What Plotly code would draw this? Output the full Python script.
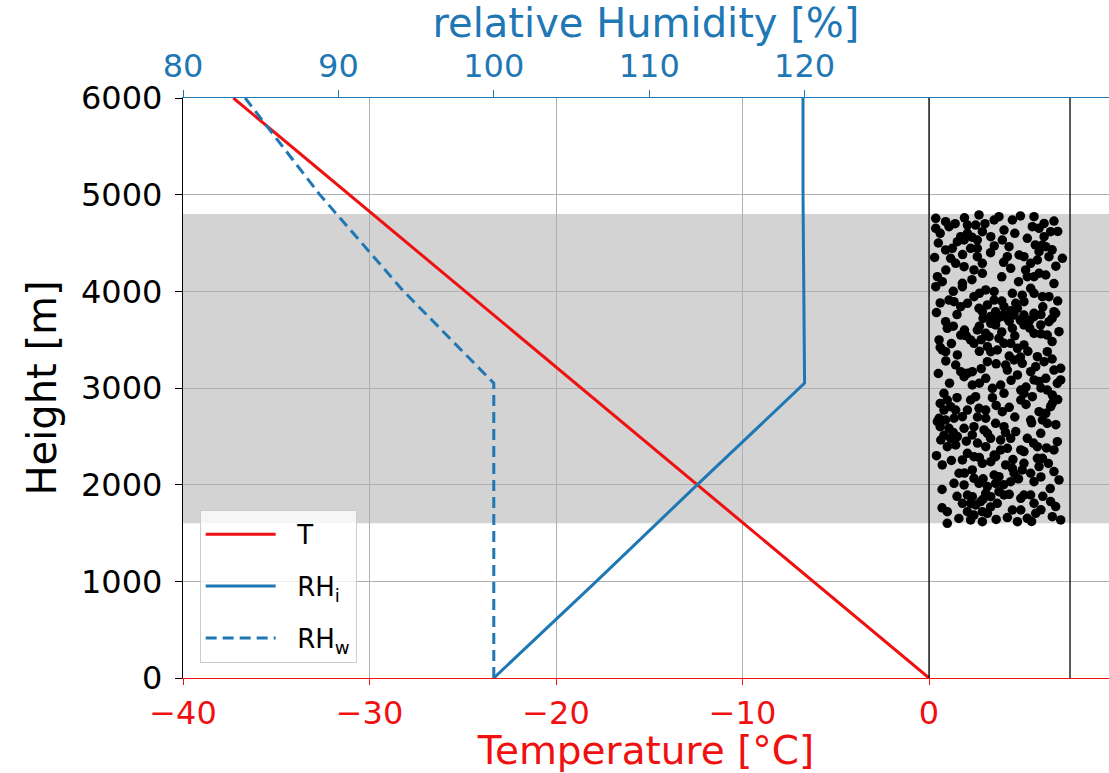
import plotly.graph_objects as go

# Temperature profile
t_height = [0, 6000]
t_values = [0.0, -37.3]

# Relative humidity over ice
rhi_height = [0, 1000, 2000, 3050, 4000, 5000, 6000]
rhi_values = [100.0, 106.6, 113.1, 120.0, 119.95, 119.9, 119.9]

# Relative humidity over water
rhw_height = [0, 3050, 4000, 5000, 6000]
rhw_values = [100.0, 100.0, 94.2, 88.8, 84.0]

# Cloud layer
cloud_base = 1600
cloud_top = 4800

# Particle panel edges (in temperature units)
panel_left = 0.0
panel_right = 7.56

# Particle positions: horizontal position (°C units) and height (m)
particle_x = [
    0.36, 0.36, 0.89, 1.07, 2.68, 2.06, 2.50, 3.49, 3.75, 4.47, 4.02, 5.63, 6.17, 6.70, 5.54, 5.90, 6.52,
    1.70, 2.06, 2.86, 3.31, 1.52, 1.88, 2.59, 3.93, 4.29, 5.27, 6.17, 6.08, 6.26, 0.89, 1.25, 2.23, 2.59,
    1.16, 1.43, 2.59, 2.86, 4.20, 4.83, 5.09, 5.45, 5.81, 5.90, 6.43, 7.15, 1.88, 2.41, 2.86, 4.38, 5.18,
    5.27, 5.63, 5.90, 6.26, 0.45, 0.71, 0.36, 1.79, 1.79, 3.04, 3.49, 4.47, 5.45, 5.63, 6.08, 6.43, 1.07,
    1.34, 2.41, 2.06, 1.70, 2.68, 3.13, 3.49, 4.02, 4.65, 5.09, 4.74, 5.63, 6.70, 2.86, 3.57,
    0.89, 0.98, 0.54, 1.70, 2.59, 3.04, 3.22, 2.23, 2.41, 3.31, 3.57, 3.84, 4.20, 4.56, 4.47, 5.09, 5.09,
    5.63, 5.99, 6.43, 6.79, 6.97, 6.34, 5.63, 0.71, 0.89, 1.52, 3.13, 3.31, 3.66, 3.75, 4.02, 4.38, 4.74,
    5.09, 3.13, 4.11, 4.56, 5.00, 5.81, 6.34, 6.17, 5.72, 1.43, 1.70, 2.06, 2.32, 1.88, 3.04, 2.32, 4.20,
    4.74, 5.45, 5.63, 5.90, 6.26, 6.70, 7.06, 6.88, 7.06, 3.40, 3.84, 4.02, 4.92, 5.09, 5.54, 6.34, 6.61,
    6.70, 0.80, 0.98, 1.16, 0.80, 1.43, 2.23, 2.50, 2.06, 2.68, 3.04, 3.93, 4.92, 5.90, 6.26, 6.52, 6.61,
    0.54, 1.79,
    0.45, 0.89, 1.34, 3.04, 3.57, 4.02, 5.45, 6.08, 6.34, 1.07, 1.88, 2.41, 2.95, 3.13, 2.32, 0.63, 1.16,
    1.52, 0.98, 1.43, 3.84, 4.38, 4.65, 5.27, 5.99, 6.88, 3.04, 3.84, 3.49, 4.20, 4.92, 5.09, 5.81, 6.70,
    2.06, 2.41, 1.79, 0.71, 2.86, 3.31, 3.57, 4.11, 4.47, 5.09, 5.81, 6.08, 5.90, 1.61, 2.32, 2.41, 3.49,
    3.75, 4.56, 5.00, 5.45, 5.63, 6.70, 6.97, 1.34, 1.88, 2.68, 3.13, 3.57, 4.38, 2.06, 2.32, 3.04, 3.31,
    3.75, 4.02, 5.09, 5.45, 5.63, 1.79, 2.23, 2.50, 2.77, 3.66, 4.92, 6.52, 6.79, 0.98, 2.06, 2.41, 2.86,
    3.13, 4.47, 4.92, 5.72, 6.61, 7.06, 0.98, 2.23, 2.86, 4.74, 5.27,
    3.3, 3.6, 4.0, 4.3, 4.9, 5.4, 6.0, 6.6, 2.9, 2.7, 1.3, 1.9, 2.0, 2.8, 3.9, 4.6, 5.4, 6.0, 6.6, 1.2,
    0.6, 2.7, 4.3, 4.9, 5.3, 6.6, 3.6, 2.8, 0.9, 0.5, 1.1, 2.7, 4.4, 5.2, 6.0, 0.6, 1.5, 3.4, 3.6, 4.3,
    5.2, 6.9, 2.6, 4.6, 5.5, 6.8,
    0.6, 1.3, 0.8, 2.0, 2.6, 3.3, 4.1, 5.6, 6.3, 0.4, 1.2, 2.7, 4.5, 6.4, 1.9, 2.9, 4.0, 4.8, 6.0, 6.5,
    0.7, 1.5, 2.9, 4.3, 6.1, 0.7, 3.3, 4.2, 6.0, 5.5, 1.6, 3.6,
    0.6, 1.4, 1.9, 3.0, 4.9, 6.9, 0.5, 2.3, 3.5, 4.6, 5.7, 6.6, 0.3, 1.8, 3.3, 4.0, 6.8, 0.9, 2.3, 3.9,
    4.8, 6.7, 1.3, 2.7, 5.0, 6.9, 0.6, 3.9, 6.1, 0.4, 1.5, 4.4,
]
particle_h = [
    4755, 4652, 4721, 4669, 4790, 4686, 4686, 4738, 4772, 4738, 4634, 4772, 4703, 4727, 4669, 4652, 4617,
    4565, 4600, 4617, 4565, 4514, 4531, 4531, 4531, 4462, 4548, 4565, 4479, 4462, 4428, 4445, 4445, 4445,
    4341, 4290, 4359, 4290, 4359, 4376, 4359, 4290, 4324, 4410, 4359, 4341, 4255, 4221, 4186, 4238, 4221,
    4152, 4152, 4186, 4169, 4152, 4100, 4048, 4083, 4048, 4014, 3997, 3979, 4031, 3979, 3945, 3945, 3910,
    3893, 3945, 3876, 3841, 3824, 3859, 3910, 3841, 3876, 3893, 3824, 3772, 3790, 3790, 3790,
    3686, 3617, 3497, 3548, 3600, 3566, 3531, 3497, 3462, 3669, 3652, 3738, 3721, 3755, 3617, 3755, 3652,
    3738, 3652, 3686, 3773, 3583, 3548, 3566, 3393, 3376, 3342, 3428, 3376, 3393, 3514, 3462, 3462, 3410,
    3445, 3272, 3238, 3290, 3255, 3324, 3376, 3272, 3221, 3238, 3169, 3152, 3169, 3117, 3100, 3031, 3186,
    3135, 3169, 3083, 3066, 3100, 3186, 3204, 3048, 3083, 2997, 3031, 2945, 2979, 2945, 2910, 2979, 2928,
    2893, 2945, 2876, 2807, 2772, 2772, 2876, 2910, 2772, 2790, 2772, 2755, 2876, 2755, 2738, 2807, 2841,
    2686, 2703,
    2652, 2669, 2687, 2687, 2635, 2600, 2669, 2669, 2635, 2583, 2583, 2600, 2566, 2531, 2514, 2462, 2480,
    2497, 2393, 2411, 2462, 2480, 2549, 2480, 2531, 2445, 2393, 2359, 2307, 2376, 2359, 2342, 2393, 2359,
    2324, 2290, 2256, 2204, 2221, 2238, 2290, 2204, 2169, 2221, 2273, 2273, 2187, 2118, 2152, 2066, 2100,
    2083, 2118, 2152, 2118, 2031, 2135, 2049, 2014, 1997, 2014, 1980, 2014, 2031, 1893, 1876, 1911, 1876,
    1928, 1893, 1893, 1893, 1807, 1807, 1807, 1790, 1825, 1807, 1859, 1825, 1773, 1721, 1721, 1686, 1721,
    1704, 1738, 1738, 1704, 1669, 1635, 1600, 1635, 1617, 1617, 1652,
    3740, 3700, 3760, 3690, 3700, 3700, 3760, 3720, 3720, 3640, 3640, 3600, 3540, 3500, 3580, 3540, 3620,
    3560, 3480, 3460, 3420, 3380, 3330, 3320, 3380, 3300, 3250, 3200, 3280, 3150, 3050, 3050, 3080, 3010,
    3000, 2840, 2900, 2900, 2820, 2800, 2830, 2880, 2700, 2700, 2640, 2620,
    2600, 2540, 2510, 2450, 2430, 2480, 2540, 2430, 2380, 2300, 2250, 2280, 2260, 2220, 2120, 2060, 2000,
    2060, 2080, 1960, 1950, 1880, 1850, 1900, 1880, 1760, 1770, 1660, 1740, 1620, 1650, 1640,
    4600, 4700, 4760, 4700, 4780, 4620, 4500, 4560, 4470, 4600, 4480, 4430, 4350, 4380, 4400, 4300, 4260,
    4220, 4120, 4150, 4100, 4080, 4000, 3980, 3960, 3900, 3880, 3900, 3840, 3780, 3760, 3800,
]

# Axis ticks
t_ticks = [-40, -30, -20, -10, 0]
t_ticktext = ["\u221240", "\u221230", "\u221220", "\u221210", "0"]
rh_ticks = [80, 90, 100, 110, 120]
h_ticks = [0, 1000, 2000, 3000, 4000, 5000, 6000]

RED = "#f01010"
BLUE = "#1f77b4"
FONT = "DejaVu Sans"
NB = "\u00a0\u00a0"

fig = go.Figure()

fig.add_trace(go.Scatter(
    x=particle_x, y=particle_h, mode="markers",
    marker=dict(color="black", size=9.5, line=dict(width=0)),
    showlegend=False, hoverinfo="skip",
))
fig.add_trace(go.Scatter(
    x=t_values, y=t_height, mode="lines", name=NB + "T", legendgroup="t",
    line=dict(color=RED, width=3),
))
fig.add_trace(go.Scatter(
    x=rhi_values, y=rhi_height, mode="lines", name=NB + "RH<sub>i</sub>", legendgroup="rhi",
    line=dict(color=BLUE, width=3), xaxis="x2",
))
fig.add_trace(go.Scatter(
    x=rhw_values, y=rhw_height, mode="lines", name=NB + "RH<sub>w</sub>", legendgroup="rhw",
    line=dict(color=BLUE, width=3, dash="11px,6px"), xaxis="x2",
))

# Cloud layer band
fig.add_shape(type="rect", xref="paper", yref="y", x0=0, x1=1,
              y0=cloud_base, y1=cloud_top, fillcolor="#d3d3d3",
              line=dict(width=0), layer="below")
# Particle panel edges
for xv in (panel_left, panel_right):
    fig.add_shape(type="line", xref="x", yref="y", x0=xv, x1=xv,
                  y0=0, y1=6000, line=dict(color="black", width=1.3))

fig.update_layout(
    width=1109, height=773,
    margin=dict(l=183, r=0, t=98, b=95),
    plot_bgcolor="white", paper_bgcolor="white",
    font=dict(family=FONT, size=30, color="black"),
    xaxis=dict(
        range=[-40, 9.65], tickvals=t_ticks, ticktext=t_ticktext,
        tickfont=dict(color=RED, size=32), showgrid=True, gridcolor="#b0b0b0",
        gridwidth=1, zeroline=False, showline=True, linecolor=RED, linewidth=1.3,
        ticks="outside", ticklen=6, tickcolor=RED, tickwidth=1.3,
        title=dict(text="Temperature [°C]", font=dict(color=RED, size=39), standoff=6),
    ),
    xaxis2=dict(
        range=[80, 139.59], tickvals=rh_ticks, overlaying="x", side="top",
        tickfont=dict(color=BLUE, size=32), showgrid=False, zeroline=False,
        showline=True, linecolor=BLUE, linewidth=1.3,
        ticks="outside", ticklen=7, tickcolor=BLUE, tickwidth=1.3,
        title=dict(text="relative Humidity [%]", font=dict(color=BLUE, size=40), standoff=0),
    ),
    yaxis=dict(
        range=[0, 6000], tickvals=h_ticks, tickfont=dict(color="black", size=32),
        showgrid=True, gridcolor="#b0b0b0", gridwidth=1, zeroline=False,
        showline=True, linecolor="black", linewidth=1.3,
        ticks="outside", ticklen=7, tickcolor="black", tickwidth=1.3,
        ticklabelstandoff=6,
        title=dict(text="Height [m]", font=dict(size=40), standoff=12),
    ),
    legend=dict(
        x=0.018, y=0.026, xanchor="left", yanchor="bottom",
        bgcolor="rgba(255,255,255,0.8)", bordercolor="#cccccc", borderwidth=1,
        font=dict(size=26, color="black"), itemwidth=70, tracegroupgap=15,
    ),
)

fig.write_html("out.html")
